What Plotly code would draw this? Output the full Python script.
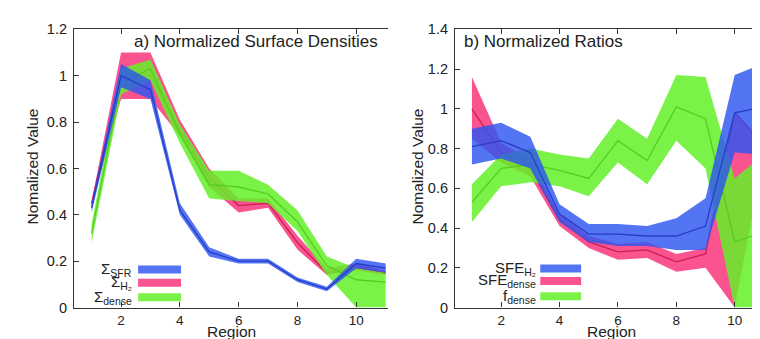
import plotly.graph_objects as go

regions = [1, 2, 3, 4, 5, 6, 7, 8, 9, 10, 11]

# Panel a) Normalized surface densities: center, lower, upper
sfr_c = [0.43, 1.00, 0.94, 0.42, 0.24, 0.20, 0.20, 0.12, 0.08, 0.19, 0.17]
sfr_lo = [0.41, 0.95, 0.90, 0.40, 0.22, 0.19, 0.19, 0.11, 0.07, 0.17, 0.15]
sfr_hi = [0.45, 1.05, 0.98, 0.45, 0.26, 0.21, 0.21, 0.13, 0.09, 0.21, 0.19]

h2_c = [0.45, 1.00, 1.00, 0.77, 0.56, 0.44, 0.45, 0.28, 0.15, 0.17, 0.15]
h2_lo = [0.44, 0.90, 0.90, 0.74, 0.52, 0.41, 0.43, 0.25, 0.14, 0.16, 0.14]
h2_hi = [0.46, 1.10, 1.10, 0.81, 0.60, 0.47, 0.47, 0.31, 0.17, 0.19, 0.16]

dense_c = [0.32, 0.97, 1.03, 0.75, 0.53, 0.52, 0.49, 0.37, 0.18, 0.12, 0.11]
dense_lo = [0.28, 0.92, 0.98, 0.71, 0.47, 0.46, 0.45, 0.33, 0.14, 0.00, 0.00]
dense_hi = [0.36, 1.03, 1.07, 0.79, 0.59, 0.59, 0.53, 0.42, 0.22, 0.17, 0.15]

# Panel b) Normalized ratios: center, lower, upper
sfeh2_c = [0.81, 0.84, 0.78, 0.47, 0.37, 0.37, 0.36, 0.36, 0.41, 0.98, 1.01]
sfeh2_lo = [0.72, 0.75, 0.70, 0.43, 0.33, 0.31, 0.31, 0.29, 0.29, 0.78, 0.77]
sfeh2_hi = [0.90, 0.93, 0.86, 0.52, 0.42, 0.42, 0.41, 0.45, 0.55, 1.17, 1.23]

sfed_c = [1.00, 0.78, 0.70, 0.44, 0.33, 0.28, 0.29, 0.23, 0.27, 0.98, 0.81]
sfed_lo = [0.85, 0.73, 0.66, 0.41, 0.30, 0.24, 0.25, 0.18, 0.20, 0.00, 0.77]
sfed_hi = [1.16, 0.83, 0.74, 0.47, 0.36, 0.32, 0.33, 0.27, 0.30, 0.99, 0.83]

fd_c = [0.53, 0.70, 0.72, 0.69, 0.65, 0.84, 0.74, 1.01, 0.95, 0.33, 0.38]
fd_lo = [0.43, 0.61, 0.63, 0.61, 0.56, 0.73, 0.62, 0.84, 0.70, 0.00, 0.00]
fd_hi = [0.62, 0.77, 0.80, 0.77, 0.75, 0.95, 0.85, 1.17, 1.16, 0.65, 0.77]

x_ticks = [2, 4, 6, 8, 10]
y_ticks_a = [0, 0.2, 0.4, 0.6, 0.8, 1, 1.2]
y_ticks_b = [0, 0.2, 0.4, 0.6, 0.8, 1, 1.2, 1.4]

BLUE_F = "rgba(45,85,240,0.82)"
RED_F = "rgba(248,45,120,0.82)"
GREEN_F = "rgba(100,240,40,0.85)"
BLUE_L = "rgb(40,60,200)"
RED_L = "rgb(205,30,80)"
GREEN_L = "rgb(85,205,35)"

fig = go.Figure()


def band(xa, ya, lo, hi, c, fill, line):
    fig.add_trace(go.Scatter(
        x=regions + regions[::-1], y=hi + lo[::-1], fill="toself",
        fillcolor=fill, line=dict(width=0), mode="lines",
        xaxis=xa, yaxis=ya, showlegend=False, hoverinfo="skip"))
    fig.add_trace(go.Scatter(
        x=regions, y=c, mode="lines", line=dict(color=line, width=1.3),
        xaxis=xa, yaxis=ya, showlegend=False))


# Panel a: draw order red, green, blue
band("x", "y", h2_lo, h2_hi, h2_c, RED_F, RED_L)
band("x", "y", dense_lo, dense_hi, dense_c, GREEN_F, GREEN_L)
band("x", "y", sfr_lo, sfr_hi, sfr_c, BLUE_F, BLUE_L)
# Panel b
band("x2", "y2", sfed_lo, sfed_hi, sfed_c, RED_F, RED_L)
band("x2", "y2", fd_lo, fd_hi, fd_c, GREEN_F, GREEN_L)
band("x2", "y2", sfeh2_lo, sfeh2_hi, sfeh2_c, BLUE_F, BLUE_L)

FONT = "Liberation Sans, Arial, sans-serif"
TXT = "#222"
axis_common = dict(
    showline=True, linecolor="#333", linewidth=1.2,
    ticks="inside", ticklen=5, tickcolor="#333",
    showgrid=False, zeroline=False,
)
ydom = [1 - 306 / 339, 1 - 14 / 339]
xfont = dict(family=FONT, size=13.5, color=TXT)
yfont = dict(family=FONT, size=14.5, color=TXT)

fig.update_layout(
    width=760, height=339,
    margin=dict(l=0, r=0, t=0, b=0),
    paper_bgcolor="white", plot_bgcolor="white",
    xaxis=dict(domain=[66 / 760, 380 / 760], range=[0.4, 11.08], tickvals=x_ticks,
               mirror="allticks", anchor="y", tickfont=xfont, **axis_common),
    yaxis=dict(domain=ydom, range=[0, 1.2], tickvals=y_ticks_a,
               ticktext=["0", "0.2", "0.4", "0.6", "0.8", "1", "1.2"], anchor="x",
               tickfont=yfont, ticklabelstandoff=3, **axis_common),
    xaxis2=dict(domain=[447 / 760, 1.0], range=[0.42, 11.14], tickvals=x_ticks,
                mirror="allticks", anchor="y2", tickfont=xfont, **axis_common),
    yaxis2=dict(domain=ydom, range=[0, 1.4], tickvals=y_ticks_b,
                ticktext=["0", "0.2", "0.4", "0.6", "0.8", "1", "1.2", "1.4"], anchor="x2",
                tickfont=yfont, ticklabelstandoff=3, **axis_common),
)

# Axis titles
for xc in (223, 603):
    fig.add_annotation(text="Region", x=xc / 760, y=1 - 331 / 339, xref="paper", yref="paper",
                       xanchor="center", yanchor="middle", showarrow=False,
                       font=dict(family=FONT, size=15.5, color=TXT))
for xc in (25, 410):
    fig.add_annotation(text="Nomalized Value", x=xc / 760, y=1 - 158 / 339, xref="paper",
                       yref="paper", xanchor="center", yanchor="middle", showarrow=False,
                       textangle=-90, font=dict(family=FONT, size=15.5, color=TXT))

# Panel titles
fig.add_annotation(text="a) Normalized Surface Densities", x=124 / 760, y=1 - 27 / 339,
                   xref="paper", yref="paper", xanchor="left", yanchor="middle",
                   showarrow=False, font=dict(family=FONT, size=17, color=TXT))
fig.add_annotation(text="b) Normalized Ratios", x=454 / 760, y=1 - 27 / 339,
                   xref="paper", yref="paper", xanchor="left", yanchor="middle",
                   showarrow=False, font=dict(family=FONT, size=17, color=TXT))

# Legends (text on left, swatch on right)
leg_a = [("Σ<sub>SFR</sub>", BLUE_F, 0.164), ("Σ<sub>H₂</sub>", RED_F, 0.107),
         ("Σ<sub>dense</sub>", GREEN_F, 0.045)]
for txt, col, yy in leg_a:
    fig.add_shape(type="line", xref="x", yref="y", x0=2.58, x1=4.04, y0=yy, y1=yy,
                  line=dict(color=col, width=8))
    fig.add_annotation(text=txt, x=2.45, y=yy, xref="x", yref="y", xanchor="right",
                       yanchor="middle", showarrow=False,
                       font=dict(family=FONT, size=15, color=TXT))

leg_b = [("SFE<sub>H₂</sub>", BLUE_F, 0.196), ("SFE<sub>dense</sub>", RED_F, 0.134),
         ("f<sub>dense</sub>", GREEN_F, 0.057)]
for txt, col, yy in leg_b:
    fig.add_shape(type="line", xref="x2", yref="y2", x0=3.34, x1=4.74, y0=yy, y1=yy,
                  line=dict(color=col, width=8))
    fig.add_annotation(text=txt, x=3.25, y=yy, xref="x2", yref="y2", xanchor="right",
                       yanchor="middle", showarrow=False,
                       font=dict(family=FONT, size=15, color=TXT))

fig.write_html("out.html")
